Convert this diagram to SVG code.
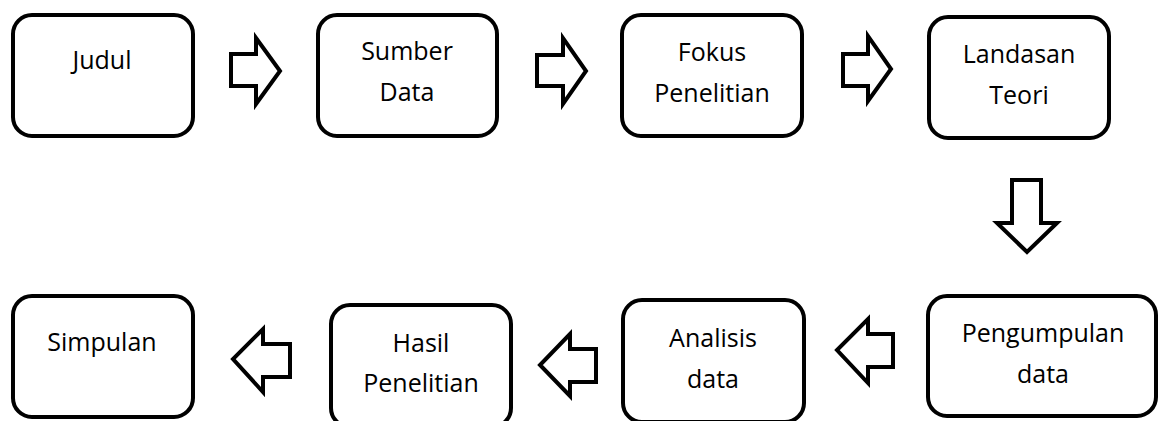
<svg xmlns="http://www.w3.org/2000/svg" width="1159" height="421" viewBox="0 0 1159 421">
<style>
.box{fill:#fff;stroke:#000;stroke-width:4}
.arr{fill:#fff;stroke:#000;stroke-width:4;stroke-linejoin:miter;stroke-miterlimit:10}
.t{font-family:"Open Sans","Liberation Sans",sans-serif;font-size:25px;fill:#000;text-anchor:middle}
</style>
<rect width="1159" height="421" fill="#fff"/>
<g id="n-judul"><rect class="box" x="13" y="15" width="180" height="121" rx="19"/><text class="t" x="102" y="69">Judul</text></g>
<g id="n-sumber"><rect class="box" x="318" y="15" width="179" height="121" rx="19"/><text class="t" x="407" y="60">Sumber</text><text class="t" x="407" y="101">Data</text></g>
<g id="n-fokus"><rect class="box" x="622" y="15" width="180" height="121" rx="19"/><text class="t" x="712" y="61">Fokus</text><text class="t" x="712" y="102">Penelitian</text></g>
<g id="n-landasan"><rect class="box" x="929" y="17" width="180" height="121" rx="19"/><text class="t" x="1019" y="63">Landasan</text><text class="t" x="1019" y="104">Teori</text></g>
<g id="n-pengumpulan"><rect class="box" x="928" y="296" width="228" height="120" rx="19"/><text class="t" x="1043" y="342">Pengumpulan</text><text class="t" x="1043" y="383">data</text></g>
<g id="n-analisis"><rect class="box" x="623" y="300" width="181" height="122" rx="19"/><text class="t" x="713" y="347">Analisis</text><text class="t" x="713" y="388">data</text></g>
<g id="n-hasil"><rect class="box" x="331" y="305" width="180" height="122" rx="19"/><text class="t" x="421" y="352">Hasil</text><text class="t" x="421" y="392">Penelitian</text></g>
<g id="n-simpulan"><rect class="box" x="13" y="296" width="180" height="121" rx="19"/><text class="t" x="102" y="351">Simpulan</text></g>
<g id="connectors">
<polygon class="arr" points="231,54 256,54 256,38 280,71 256,104 256,86 231,86"/>
<polygon class="arr" points="537,55 563,55 563,38 586,71 563,104 563,86 537,86"/>
<polygon class="arr" points="843,54 868,54 868,36 891,69 868,101 868,86 843,86"/>
<polygon class="arr" points="1012,180 1041,180 1041,223 1057,223 1027,252 997,223 1012,223"/>
<polygon class="arr" points="893,334 868,334 868,319 837,350 868,383 868,367 893,367"/>
<polygon class="arr" points="596,349 570,349 570,334 540,365 570,396 570,382 596,382"/>
<polygon class="arr" points="290,344 263,344 263,329 233,359 263,392 263,377 290,377"/>
</g>
</svg>
